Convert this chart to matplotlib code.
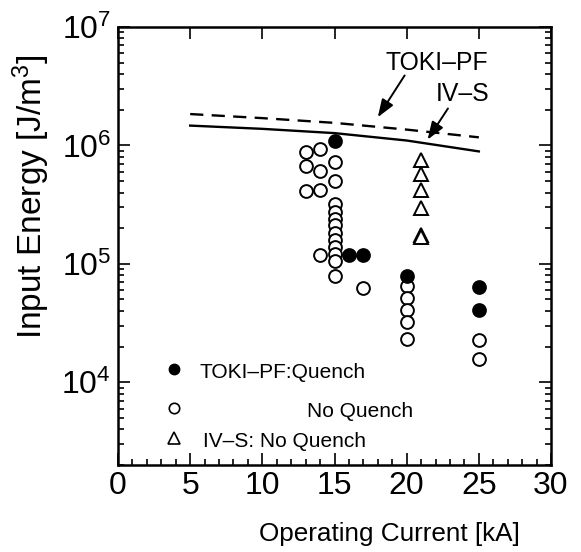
import matplotlib
matplotlib.use("Agg")
import matplotlib.pyplot as plt
from matplotlib import font_manager as fm
from matplotlib.ticker import MultipleLocator, LogLocator, NullFormatter

# ---------------- data ----------------
line_x = [5, 10, 15, 20, 25]
toki_limit = [1.84e6, 1.70e6, 1.55e6, 1.36e6, 1.17e6]   # dashed
ivs_limit = [1.47e6, 1.38e6, 1.27e6, 1.10e6, 8.9e5]     # solid

quench_x = [15, 16, 17, 20, 25, 25]
quench_y = [1.08e6, 1.18e5, 1.18e5, 7.9e4, 6.4e4, 4.05e4]

noq_x = [13, 13, 13,
         14, 14, 14, 14,
         15, 15, 15, 15, 15, 15, 15, 15, 15, 15, 15, 15,
         17,
         20, 20, 20, 20, 20,
         25, 25]
noq_y = [8.8e5, 6.7e5, 4.15e5,
         9.3e5, 6.1e5, 4.2e5, 1.18e5,
         7.2e5, 5.0e5, 3.2e5, 2.75e5, 2.40e5, 2.13e5, 1.83e5, 1.58e5, 1.39e5, 1.22e5, 1.06e5, 7.9e4,
         6.3e4,
         6.5e4, 5.1e4, 4.07e4, 3.25e4, 2.31e4,
         2.28e4, 1.58e4]

ivs_x = [21, 21, 21, 21, 21, 21]
ivs_y = [7.6e5, 5.7e5, 4.24e5, 2.97e5, 1.75e5, 1.68e5]

xlim = (0, 30)
ylim = (2e3, 1e7)
x_major = [0, 5, 10, 15, 20, 25, 30]

labels_legend = ["TOKI\u2013PF:Quench", "No Quench", "IV\u2013S: No Quench"]
annot_text = ["TOKI\u2013PF", "IV\u2013S"]
annot_text_xy = [(22.1, 4.97e6), (23.85, 2.73e6)]
annot_tail = [(19.86, 3.9e6), (22.86, 2.05e6)]
annot_head = [(18.0, 1.73e6), (21.45, 1.12e6)]

# ---------------- fonts ----------------
names = {f.name for f in fm.fontManager.ttflist}
narrow = "Liberation Sans Narrow" in names
base = "Liberation Sans"
nfont = "Liberation Sans Narrow" if narrow else base
plt.rcParams["font.family"] = [base, "DejaVu Sans"]
plt.rcParams["mathtext.fontset"] = "custom"
plt.rcParams["mathtext.rm"] = base
plt.rcParams["mathtext.it"] = base
plt.rcParams["mathtext.bf"] = base
plt.rcParams["lines.scale_dashes"] = False

xlab_fs = 22 if narrow else 18.8
leg_fs = 17.4 if narrow else 15
ann_fs = 21 if narrow else 17.8

# ---------------- figure ----------------
fig = plt.figure(figsize=(5.81, 5.52), dpi=100)
ax = fig.add_axes([118 / 581, 1 - 465 / 552, (551 - 118) / 581, (465 - 27) / 552])
ax.set_yscale("log")
ax.set_xlim(*xlim)
ax.set_ylim(*ylim)

ax.plot(line_x, toki_limit, color="black", lw=1.7, dashes=(9.5, 6), zorder=2)
ax.plot(line_x, ivs_limit, color="black", lw=1.7, zorder=2)

ax.plot(noq_x, noq_y, linestyle="none", marker="o", ms=9.2, mfc="white",
        mec="black", mew=1.4, zorder=3)
ax.plot(quench_x, quench_y, linestyle="none", marker="o", ms=9.2, mfc="black",
        mec="black", mew=1.4, zorder=4)
ax.plot(ivs_x, ivs_y, linestyle="none", marker="^", ms=10.5, mfc="white",
        mec="black", mew=1.4, zorder=3)

# annotations
for t, txy, tail, head in zip(annot_text, annot_text_xy, annot_tail, annot_head):
    ax.text(txy[0], txy[1], t, ha="center", va="center", fontsize=ann_fs,
            family=[nfont, "DejaVu Sans"])
    ax.annotate("", xy=head, xytext=tail,
                arrowprops=dict(arrowstyle="-|>,head_length=0.6,head_width=0.22",
                                color="black", lw=1.4,
                                mutation_scale=18, shrinkA=0, shrinkB=0))

# manual legend
lx = 0.129
ax.plot([lx], [0.2185], transform=ax.transAxes, marker="o", ms=7.5, mfc="black",
        mec="black", linestyle="none", clip_on=False)
ax.plot([lx], [0.130], transform=ax.transAxes, marker="o", ms=7.5, mfc="white",
        mec="black", mew=1.2, linestyle="none", clip_on=False)
ax.plot([lx], [0.062], transform=ax.transAxes, marker="^", ms=8.5, mfc="white",
        mec="black", mew=1.2, linestyle="none", clip_on=False)
ax.text(0.189, 0.198, labels_legend[0], transform=ax.transAxes, fontsize=leg_fs,
        va="baseline", ha="left", family=[nfont, "DejaVu Sans"])
ax.text(0.436, 0.110, labels_legend[1], transform=ax.transAxes, fontsize=leg_fs,
        va="baseline", ha="left", family=[nfont, "DejaVu Sans"])
ax.text(0.196, 0.042, labels_legend[2], transform=ax.transAxes, fontsize=leg_fs,
        va="baseline", ha="left", family=[nfont, "DejaVu Sans"])

# ticks
ax.set_xticks(x_major)
ax.xaxis.set_minor_locator(MultipleLocator(1))
ax.yaxis.set_major_locator(LogLocator(base=10, numticks=20))
ax.yaxis.set_minor_locator(LogLocator(base=10, subs=range(2, 10), numticks=20))
ax.yaxis.set_minor_formatter(NullFormatter())
ax.tick_params(which="both", direction="in", top=True, right=True, width=1.2,
               colors="black")
ax.tick_params(which="major", length=8.5)
ax.tick_params(which="minor", length=4.5)
ax.tick_params(axis="x", which="minor", top=False)
ax.tick_params(axis="x", which="major", labelsize=23, pad=4)
ax.tick_params(axis="y", which="major", labelsize=23, pad=5)
for s in ax.spines.values():
    s.set_linewidth(1.8)

ax.set_xlabel("Operating Current [kA]", fontsize=xlab_fs,
              family=[nfont, "DejaVu Sans"])
ax.xaxis.set_label_coords(0.626, -0.13)
ax.set_ylabel("Input Energy [J/m$^3$]", fontsize=24)
ax.yaxis.set_label_coords(-0.152, 0.612)

fig.savefig("out.png", dpi=100)
